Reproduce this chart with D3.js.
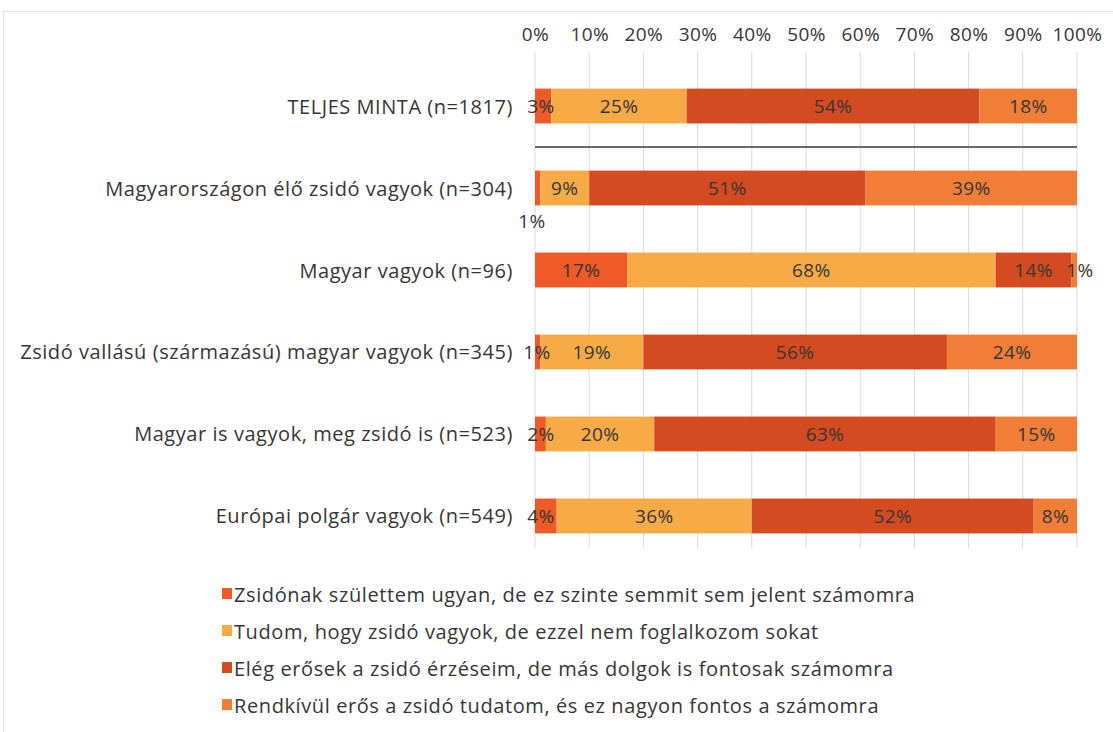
<!DOCTYPE html>
<html>
<head>
<meta charset="utf-8">
<script src="https://cdn.jsdelivr.net/npm/d3@7"></script>
<style>
  html, body { margin: 0; padding: 0; background: #fff; }
  svg text { font-family: "Open Sans", Lato, sans-serif; fill: #363636; }
</style>
</head>
<body>
<svg id="chart" width="1113" height="732"></svg>
<script>
// Survey groups (rows, top to bottom)
const categories = [
  "TELJES MINTA (n=1817)",
  "Magyarországon élő zsidó vagyok (n=304)",
  "Magyar vagyok (n=96)",
  "Zsidó vallású (származású) magyar vagyok (n=345)",
  "Magyar is vagyok, meg zsidó is (n=523)",
  "Európai polgár vagyok (n=549)"
];

// Answer options (stack order, left to right)
const seriesNames = [
  "Zsidónak születtem ugyan, de ez szinte semmit sem jelent számomra",
  "Tudom, hogy zsidó vagyok, de ezzel nem foglalkozom sokat",
  "Elég erősek a zsidó érzéseim, de más dolgok is fontosak számomra",
  "Rendkívül erős a zsidó tudatom, és ez nagyon fontos a számomra"
];

// Percentages per answer option, one value per group
const seriesSemmit    = [3, 1, 17, 1, 2, 4];
const seriesTudom     = [25, 9, 68, 19, 20, 36];
const seriesEleg      = [54, 51, 14, 56, 63, 52];
const seriesRendkivul = [18, 39, 1, 24, 15, 8];

const tickValues = [0, 10, 20, 30, 40, 50, 60, 70, 80, 90, 100];

const colors = ["#ee5a28", "#f6ab47", "#d44b22", "#f07e37"];

const rows = categories.map((c, i) => ({
  cat: c,
  vals: [seriesSemmit[i], seriesTudom[i], seriesEleg[i], seriesRendkivul[i]]
}));

const svg = d3.select("#chart");

// light frame of the chart area
svg.append("rect")
  .attr("x", 3.5).attr("y", 11.5)
  .attr("width", 1120).attr("height", 740)
  .attr("fill", "none").attr("stroke", "#e2e2e2").attr("stroke-width", 1);

const x = d3.scaleLinear().domain([0, 100]).range([535, 1077]);
const y = d3.scaleBand().domain(categories).range([64, 558]).paddingInner(0.575).paddingOuter(0.3);

// vertical gridlines
svg.append("g").selectAll("line")
  .data(tickValues)
  .join("line")
  .attr("x1", d => x(d)).attr("x2", d => x(d))
  .attr("y1", 52).attr("y2", 548)
  .attr("stroke", "#d9d9d9").attr("stroke-width", 1);

// top axis labels
const axis = d3.axisTop(x).tickValues(tickValues).tickFormat(d => d + "%").tickSize(0).tickPadding(0);
const gAxis = svg.append("g").attr("transform", "translate(0,41)").call(axis);
gAxis.select(".domain").remove();
gAxis.selectAll("text")
  .style("font-family", "'Open Sans', Lato, sans-serif")
  .style("font-size", "19px")
  .style("letter-spacing", "0.4px")
  .attr("fill", "#363636");

// stacked bars
const stack = d3.stack().keys([0, 1, 2, 3]).value((d, k) => d.vals[k]);
const stacked = stack(rows);

const gBars = svg.append("g");
stacked.forEach((layer, k) => {
  gBars.append("g").selectAll("rect")
    .data(layer)
    .join("rect")
    .attr("x", d => x(d[0]))
    .attr("y", d => y(d.data.cat))
    .attr("width", d => x(d[1]) - x(d[0]))
    .attr("height", y.bandwidth())
    .attr("fill", colors[k]);
});

// separator under the full sample
const sepY = (y(categories[0]) + y.bandwidth() + y(categories[1])) / 2;
svg.append("line")
  .attr("x1", x(0)).attr("x2", x(100))
  .attr("y1", sepY).attr("y2", sepY)
  .attr("stroke", "#6a6a6a").attr("stroke-width", 2);

// value labels
const gLabels = svg.append("g");
stacked.forEach((layer, k) => {
  layer.forEach((d, i) => {
    let lx = (x(d[0]) + x(d[1])) / 2;
    let ly = y(d.data.cat) + y.bandwidth() / 2;
    const v = d[1] - d[0];
    // tiny leading segment of row 2 is labelled below its bar
    if (i === 1 && k === 0) { lx = x(d[0]) - 3; ly = y(d.data.cat) + y.bandwidth() + 16; }
    // tiny trailing segment of row 3 is labelled just past the bar end
    if (i === 2 && k === 3) { lx = x(d[1]) + 3; }
    // small leading segments keep their label near the bar start
    if (k === 0 && i !== 1 && v <= 4) { lx = x(d[0]) + 6; }
    if (k === 0 && i === 3) { lx = x(d[0]) + 2; }
    gLabels.append("text")
      .attr("x", lx).attr("y", ly)
      .attr("text-anchor", "middle")
      .attr("dominant-baseline", "central")
      .style("font-size", "19px")
      .style("letter-spacing", "0.4px")
      .text(v + "%");
  });
});

// category labels
svg.append("g").selectAll("text")
  .data(categories)
  .join("text")
  .attr("x", 513)
  .attr("y", d => y(d) + y.bandwidth() / 2)
  .attr("text-anchor", "end")
  .attr("dominant-baseline", "central")
  .style("font-size", "20px")
  .style("letter-spacing", "0.55px")
  .text(d => d);

// legend
const legend = svg.append("g").selectAll("g")
  .data(seriesNames)
  .join("g")
  .attr("transform", (d, i) => `translate(222, ${594 + i * 37})`);
legend.append("rect")
  .attr("x", 0).attr("y", -6).attr("width", 10).attr("height", 11)
  .attr("fill", (d, i) => colors[i]);
legend.append("text")
  .attr("x", 12).attr("y", 0)
  .attr("dominant-baseline", "central")
  .style("font-size", "20px")
  .style("letter-spacing", "0.6px")
  .text(d => d);
</script>
</body>
</html>
